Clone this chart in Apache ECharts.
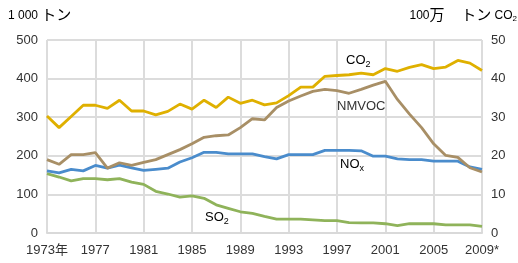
<!DOCTYPE html>
<html>
<head>
<meta charset="utf-8">
<script src="https://cdn.jsdelivr.net/npm/echarts@6/dist/echarts.min.js"></script>
<style>
  html, body { margin: 0; padding: 0; background: #fff; }
  #chart { width: 518px; height: 263px; }
</style>
</head>
<body>
<div id="chart"></div>
<script>
const years = [
  "1973年", "1974", "1975", "1976", "1977", "1978", "1979", "1980", "1981", "1982",
  "1983", "1984", "1985", "1986", "1987", "1988", "1989", "1990", "1991", "1992",
  "1993", "1994", "1995", "1996", "1997", "1998", "1999", "2000", "2001", "2002",
  "2003", "2004", "2005", "2006", "2007", "2008", "2009*"
]

// 100万 トン (right axis)
const co2 = [
  30.3, 27.3, 30.2, 33.1, 33.1, 32.3, 34.4, 31.6, 31.6, 30.6,
  31.5, 33.4, 32.1, 34.4, 32.5, 35.2, 33.6, 34.4, 33.2, 33.7,
  35.6, 37.8, 37.8, 40.6, 40.8, 41.0, 41.4, 41.0, 42.6, 41.9,
  42.9, 43.6, 42.6, 43.0, 44.7, 44.0, 42.1
]

// 1 000 トン (left axis)
const nmvoc = [
  190, 178, 203, 203, 208, 168, 182, 175, 183, 190,
  203, 216, 231, 248, 252, 254, 273, 296, 293, 325,
  342, 355, 367, 372, 369, 362, 372, 383, 393, 346,
  308, 273, 231, 201, 196, 169, 158
]

const nox = [
  161, 156, 165, 161, 175, 168, 176, 169, 162, 165,
  168, 184, 195, 209, 209, 205, 205, 205, 198, 192,
  203, 203, 203, 214, 214, 214, 213, 199, 199, 192,
  190, 190, 186, 186, 186, 171, 165
]

const so2 = [
  154, 145, 135, 141, 141, 138, 141, 132, 126, 108,
  101, 93, 96, 90, 73, 64, 55, 51, 43, 36,
  36, 36, 34, 32, 32, 27, 26, 26, 24, 19,
  24, 24, 24, 21, 21, 21, 17
]

const txt = '#333'
const fam = 'Liberation Sans, Arial, "Noto Sans CJK JP", sans-serif'

const sub = { fontSize: 9, fontFamily: fam, color: txt, padding: [8, 0, 0, 0] }
const lab = { fontSize: 13, fontFamily: fam, color: txt }

function seriesOf(name, data, color, yIdx) {
  return {
    name: name,
    type: 'line',
    data: data,
    yAxisIndex: yIdx,
    symbol: 'none',
    smooth: false,
    lineStyle: { color: color, width: 2.8 },
    itemStyle: { color: color }
  }
}

const chart = echarts.init(document.getElementById('chart'))
chart.setOption({
  animation: false,
  textStyle: { fontFamily: fam },
  grid: { left: 47, right: 36, top: 40, bottom: 30 },
  xAxis: {
    type: 'category',
    data: years,
    boundaryGap: false,
    axisLine: { show: true, lineStyle: { color: '#d9d9d9', width: 2 } },
    axisTick: { show: false },
    axisLabel: { interval: 3, color: txt, fontSize: 13, fontFamily: fam, margin: 11, hideOverlap: false },
    splitLine: { show: true, interval: 3, lineStyle: { color: '#dcdcdc', width: 2 } }
  },
  yAxis: [
    {
      type: 'value', min: 0, max: 500, interval: 100,
      axisLine: { show: false }, axisTick: { show: false },
      axisLabel: { color: txt, fontSize: 13, fontFamily: fam, margin: 9 },
      splitLine: { lineStyle: { color: '#dcdcdc', width: 2 } }
    },
    {
      type: 'value', min: 0, max: 50, interval: 10,
      axisLine: { show: false }, axisTick: { show: false },
      axisLabel: { color: txt, fontSize: 13, fontFamily: fam, margin: 9 },
      splitLine: { show: false }
    }
  ],
  series: [
    seriesOf('SO2', so2, '#8fb35a', 0),
    seriesOf('NOx', nox, '#4a8ccc', 0),
    seriesOf('NMVOC', nmvoc, '#a88f66', 0),
    seriesOf('CO2', co2, '#dfb000', 1)
  ],
  graphic: [
    { type: 'text', left: 8, top: 8, style: {
      text: '{a|1 000} {b|トン}',
      rich: { a: { fontSize: 12, fontFamily: fam, color: txt }, b: { fontSize: 15, fontFamily: fam, color: txt } }
    } },
    { type: 'text', right: 1, top: 8, style: {
      text: '{a|100}{b|万}     {b|トン} {a|CO}{s|2}',
      rich: {
        a: { fontSize: 12, fontFamily: fam, color: txt },
        b: { fontSize: 15, fontFamily: fam, color: txt },
        s: { fontSize: 8, fontFamily: fam, color: txt, padding: [7, 0, 0, 0] }
      }
    } },
    { type: 'text', left: 346, top: 54, style: { text: '{a|CO}{s|2}', rich: { a: lab, s: sub } } },
    { type: 'text', left: 337, top: 100, z: 10, style: { text: 'NMVOC', font: '13px ' + fam, fill: txt } },
    { type: 'text', left: 340, top: 158, style: { text: '{a|NO}{s|x}', rich: { a: lab, s: sub } } },
    { type: 'text', left: 205, top: 211, style: { text: '{a|SO}{s|2}', rich: { a: lab, s: sub } } }
  ]
})
</script>
</body>
</html>
